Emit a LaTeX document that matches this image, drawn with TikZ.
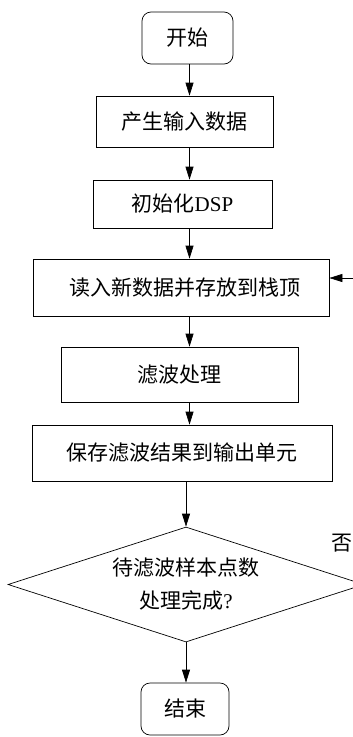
\documentclass[tikz,border=0pt]{standalone}
\usepackage{fontspec}
\setmainfont{Liberation Serif}
\newfontfamily\cjk{Noto Sans CJK SC}
\usetikzlibrary{arrows.meta,shapes.geometric}
\begin{document}
\begin{tikzpicture}[x=1pt,y=-1pt,
  box/.style={draw, line width=0.7pt, inner sep=0pt, font=\fontsize{21}{25}\selectfont\cjk},
  term/.style={box, rounded corners=9pt},
  dec/.style={draw, line width=0.7pt, diamond, inner sep=0pt},
  lbl/.style={inner sep=0pt, align=center, font=\fontsize{21}{33}\selectfont\cjk},
  arr/.style={line width=0.7pt, -{Triangle[length=13pt,width=8pt]}}]
\useasboundingbox (0,0) rectangle (353,737);
\clip (0,0) rectangle (353,737);
\coordinate (axis) at (189.5,0);
\node[term, minimum width=91pt, minimum height=52pt] (start) at (187.5,38) {开始};
\node[box, minimum width=177pt, minimum height=51pt] (gen) at (184.5,121.5) {产生输入数据};
\node[box, minimum width=179pt, minimum height=48pt] (init) at (182.5,204) {初始化{\rmfamily DSP}};
\node[box, minimum width=296pt, minimum height=57pt] (read) at (181,287.5) {\hspace*{8pt}读入新数据并存放到栈顶};
\node[box, minimum width=237pt, minimum height=55pt] (filt) at (179.5,374.5) {滤波处理};
\node[box, minimum width=300pt, minimum height=56pt] (save) at (182,453) {保存滤波结果到输出单元};
\node[dec, minimum width=356pt, minimum height=115pt] (chk) at (186,584.5) {};
\node[lbl] (chktxt) at (chk.center) {待滤波样本点数\\处理完成{\rmfamily ?}};
\node[term, minimum width=88pt, minimum height=52pt] (end) at (185,709) {结束};
\node[lbl, anchor=east] (no) at (353,543) {否};
\draw[arr] (axis |- start.south) -- (axis |- gen.north);
\draw[arr] (axis |- gen.south) -- (axis |- init.north);
\draw[arr] (axis |- init.south) -- (axis |- read.north);
\draw[arr] (axis |- read.south) -- (axis |- filt.north);
\draw[arr] (axis |- filt.south) -- (axis |- save.north);
\draw[arr] (save.south -| chk.north) -- (chk.north);
\draw[arr] (chk.south) -- (chk.south |- end.north);
\draw[arr] (chk.east) -- ++(20,0) |- ([yshift=9.5pt]read.east);
\end{tikzpicture}
\end{document}
